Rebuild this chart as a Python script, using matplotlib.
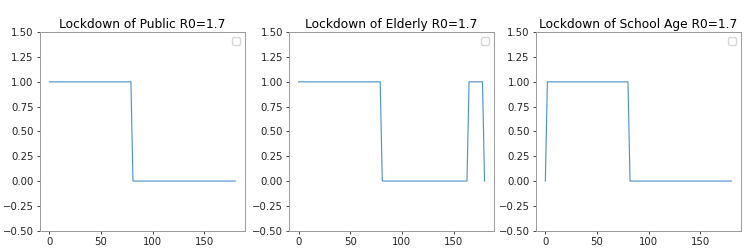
import matplotlib
matplotlib.use("Agg")
import matplotlib.pyplot as plt

# step schedules (day, lockdown on/off)
public_days = [0, 79, 81, 180]
public_vals = [1, 1, 0, 0]

elderly_days = [0, 79, 81, 163, 165, 178, 180]
elderly_vals = [1, 1, 0, 0, 1, 1, 0]

school_days = [0, 2, 80, 82, 180]
school_vals = [0, 1, 1, 0, 0]

titles = ["Lockdown of Public R0=1.7",
          "Lockdown of Elderly R0=1.7",
          "Lockdown of School Age R0=1.7"]
yticks = [-0.5, -0.25, 0.0, 0.25, 0.5, 0.75, 1.0, 1.25, 1.5]
xticks = [0, 50, 100, 150]

series = [(public_days, public_vals),
          (elderly_days, elderly_vals),
          (school_days, school_vals)]

fig = plt.figure(figsize=(7.52, 2.48), dpi=100)
lefts = [0.0532, 0.3847, 0.7128]

for left, (xs, ys), title in zip(lefts, series, titles):
    ax = fig.add_axes([left, 0.070, 0.272, 0.800])
    ax.plot(xs, ys, color="#4a8fcc", lw=0.8)
    ax.set_ylim(-0.5, 1.5)
    ax.set_xlim(-9, 189)
    ax.set_yticks(yticks)
    ax.set_xticks(xticks)
    ax.tick_params(labelsize=7.3, length=2.5, width=0.6, pad=2, colors="#222222")
    for s in ax.spines.values():
        s.set_color("#999999")
        s.set_linewidth(0.7)
    ax.set_title(title, fontsize=8.8, pad=3)
    ax.legend(handles=[], loc="upper right", fontsize=7)

fig.savefig("out.png", dpi=100)
